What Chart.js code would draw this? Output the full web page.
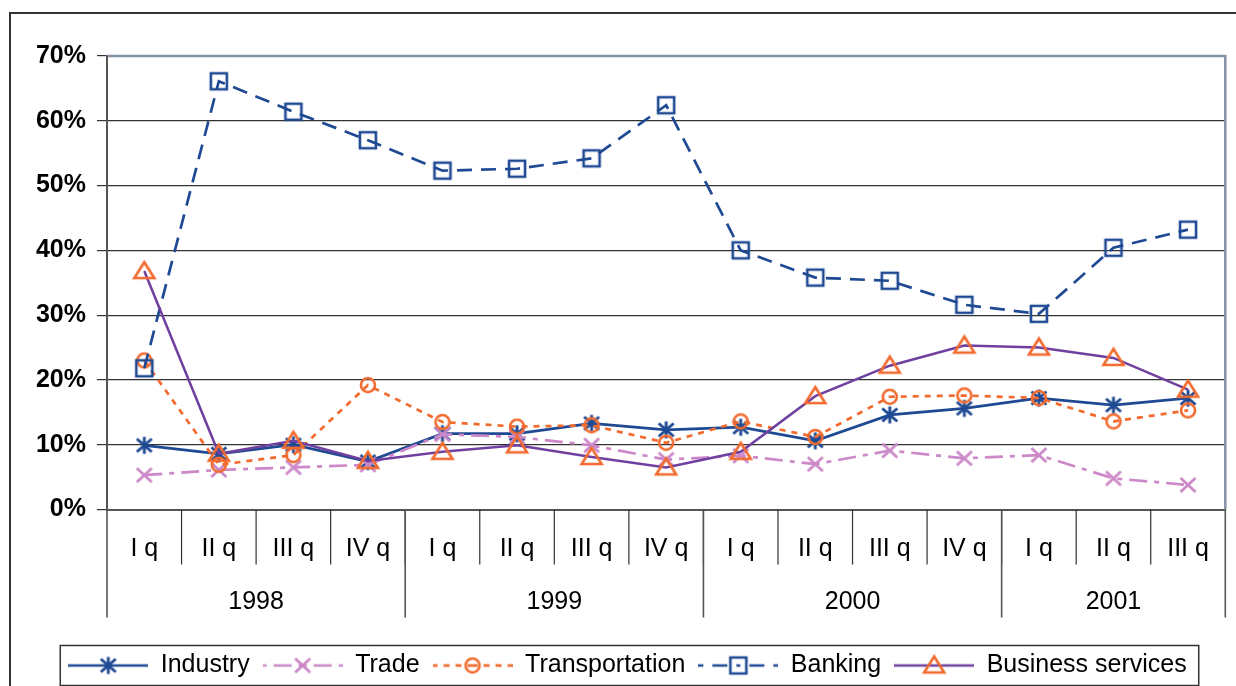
<!DOCTYPE html>
<html>
<head>
<meta charset="utf-8">
<script src="https://cdn.jsdelivr.net/npm/chart.js@4.4.1/dist/chart.umd.min.js"></script>
<style>
  html, body { margin: 0; padding: 0; background: #fff; }
  canvas { display: block; }
</style>
</head>
<body>
<canvas id="chart" width="1236" height="686"></canvas>
<script>
  // quarterly shares, %
  const quarters = ['I q', 'II q', 'III q', 'IV q', 'I q', 'II q', 'III q', 'IV q',
                    'I q', 'II q', 'III q', 'IV q', 'I q', 'II q', 'III q'];
  const years = ['1998', '1999', '2000', '2001'];
  const quartersPerYear = [4, 4, 4, 3];

  const industry = [9.9, 8.6, 10.0, 7.4, 11.7, 11.7, 13.3, 12.3, 12.7, 10.6, 14.6, 15.6, 17.2, 16.1, 17.2];
  const trade = [5.3, 6.1, 6.5, 6.9, 11.6, 11.2, 9.9, 7.7, 8.3, 7.0, 9.1, 7.9, 8.4, 4.8, 3.8];
  const transportation = [23.0, 6.9, 8.4, 19.2, 13.5, 12.8, 13.0, 10.3, 13.6, 11.2, 17.4, 17.6, 17.2, 13.6, 15.3];
  const banking = [21.8, 66.1, 61.4, 57.0, 52.3, 52.6, 54.2, 62.4, 40.0, 35.8, 35.3, 31.6, 30.2, 40.4, 43.2];
  const businessServices = [36.8, 8.6, 10.6, 7.5, 8.9, 9.9, 8.1, 6.5, 8.9, 17.5, 22.2, 25.3, 25.0, 23.4, 18.5];

  const NAVY = '#1f4a93';
  const PINK = '#cc88c8';
  const ORANGE = '#f26a2e';
  const PURPLE = '#7040a0';
  const FONT = "'Liberation Sans', Arial, sans-serif";

  function drawMarker(g, kind, color, cx, cy) {
    g.save();
    g.strokeStyle = color;
    g.lineWidth = 2.6;
    g.lineCap = 'butt';
    g.setLineDash([]);
    g.beginPath();
    if (kind === 'asterisk') {
      g.lineWidth = 2.9;
      g.moveTo(cx, cy - 8.5); g.lineTo(cx, cy + 8.5);
      g.moveTo(cx - 7.5, cy - 6.5); g.lineTo(cx + 7.5, cy + 6.5);
      g.moveTo(cx + 7.5, cy - 6.5); g.lineTo(cx - 7.5, cy + 6.5);
    } else if (kind === 'cross') {
      g.lineWidth = 2.8;
      g.moveTo(cx - 7.5, cy - 7); g.lineTo(cx + 7.5, cy + 7);
      g.moveTo(cx + 7.5, cy - 7); g.lineTo(cx - 7.5, cy + 7);
    } else if (kind === 'circle') {
      g.arc(cx, cy, 7, 0, Math.PI * 2);
    } else if (kind === 'square') {
      g.rect(cx - 8, cy - 8, 16, 16);
    } else if (kind === 'triangle') {
      g.moveTo(cx, cy - 9); g.lineTo(cx + 10, cy + 7); g.lineTo(cx - 10, cy + 7); g.closePath();
    }
    g.stroke();
    g.restore();
  }

  function markerImage(kind, color) {
    const c = document.createElement('canvas');
    c.width = 26; c.height = 26;
    drawMarker(c.getContext('2d'), kind, color, 13, 13);
    return c;
  }

  // legend sample: the line drawn out from the marker both ways, marker in the middle
  function legendImage(ds) {
    const c = document.createElement('canvas');
    c.width = 80; c.height = 26;
    const g = c.getContext('2d');
    g.strokeStyle = ds.borderColor;
    g.lineWidth = ds.borderWidth;
    g.setLineDash(ds.borderDash || []);
    g.lineDashOffset = -11;
    g.beginPath(); g.moveTo(40, 13); g.lineTo(80, 13); g.stroke();
    g.beginPath(); g.moveTo(40, 13); g.lineTo(0, 13); g.stroke();
    drawMarker(g, ds.markerKind, ds.markerColor, 40, 13);
    return c;
  }

  const series = [
    { label: 'Industry', data: industry, borderColor: NAVY, borderWidth: 2.7, borderDash: [], markerKind: 'asterisk', markerColor: NAVY, order: 5 },
    { label: 'Trade', data: trade, borderColor: PINK, borderWidth: 2.7, borderDash: [18, 7, 5, 7], markerKind: 'cross', markerColor: PINK, order: 4 },
    { label: 'Transportation', data: transportation, borderColor: ORANGE, borderWidth: 2.7, borderDash: [6, 6], markerKind: 'circle', markerColor: ORANGE, order: 3 },
    { label: 'Banking', data: banking, borderColor: NAVY, borderWidth: 2.7, borderDash: [15, 9], markerKind: 'square', markerColor: NAVY, order: 2 },
    { label: 'Business services', data: businessServices, borderColor: PURPLE, borderWidth: 2.5, borderDash: [], markerKind: 'triangle', markerColor: ORANGE, order: 1 }
  ];

  const datasets = series.map(s => ({
    ...s,
    fill: false,
    tension: 0,
    pointStyle: markerImage(s.markerKind, s.markerColor),
    pointRadius: 8,
    pointHoverRadius: 8
  }));

  const decorations = {
    id: 'decorations',
    beforeDraw(chart) {
      const ctx = chart.ctx;
      ctx.save();
      ctx.fillStyle = '#fff';
      ctx.fillRect(0, 0, chart.width, chart.height);
      ctx.strokeStyle = '#333';
      ctx.lineWidth = 2;
      ctx.beginPath();
      ctx.moveTo(10, chart.height); ctx.lineTo(10, 13); ctx.lineTo(chart.width, 13);
      ctx.stroke();
      ctx.restore();
    },
    afterDraw(chart) {
      const { ctx, chartArea: a, scales: { x } } = chart;
      const step = x.getPixelForValue(1) - x.getPixelForValue(0);
      const edge = i => x.getPixelForValue(i) - step / 2;
      const rowBottom = a.bottom + 55;
      const yearBottom = a.bottom + 108;
      ctx.save();

      // frame of the plot: top and right in grey-blue
      ctx.strokeStyle = '#8592a6';
      ctx.lineWidth = 2.5;
      ctx.beginPath();
      ctx.moveTo(a.left, a.top); ctx.lineTo(a.right, a.top); ctx.lineTo(a.right, a.bottom);
      ctx.stroke();

      // quarter separators
      ctx.strokeStyle = '#333';
      ctx.lineWidth = 1.2;
      ctx.beginPath();
      for (let i = 1; i < quarters.length; i++) {
        ctx.moveTo(edge(i), a.bottom); ctx.lineTo(edge(i), rowBottom);
      }
      ctx.stroke();

      // year separators and labels
      ctx.strokeStyle = '#555';
      ctx.lineWidth = 1.6;
      ctx.font = '25px ' + FONT;
      ctx.fillStyle = '#000';
      ctx.textAlign = 'center';
      ctx.textBaseline = 'alphabetic';
      let start = 0;
      ctx.beginPath();
      ctx.moveTo(edge(0), a.top); ctx.lineTo(edge(0), yearBottom);
      years.forEach((yr, k) => {
        const end = start + quartersPerYear[k];
        ctx.moveTo(edge(end), a.bottom); ctx.lineTo(edge(end), yearBottom);
        ctx.fillText(yr, (edge(start) + edge(end)) / 2, a.bottom + 99);
        start = end;
      });
      ctx.stroke();

      // box round the legend
      const hb = chart.legend.legendHitBoxes;
      if (hb && hb.length) {
        const l = hb[0].left - 8;
        const r = hb[hb.length - 1].left + hb[hb.length - 1].width + 12;
        const cy = hb[0].top + hb[0].height / 2;
        ctx.strokeStyle = '#333';
        ctx.lineWidth = 1.5;
        ctx.strokeRect(l, cy - 20, r - l, 40);
      }
      ctx.restore();
    }
  };

  new Chart(document.getElementById('chart'), {
    type: 'line',
    data: { labels: quarters, datasets },
    options: {
      responsive: false,
      animation: false,
      layout: { padding: { left: 27, right: 8, top: 56, bottom: -2 } },
      plugins: {
        tooltip: { enabled: false },
        legend: {
          position: 'bottom',
          labels: {
            usePointStyle: true,
            pointStyleWidth: 80,
            padding: 13,
            color: '#000',
            font: { family: FONT, size: 25 },
            generateLabels: chart => chart.data.datasets.map((ds, i) => ({
              text: ds.label,
              pointStyle: legendImage(ds),
              fillStyle: 'transparent',
              strokeStyle: 'transparent',
              lineWidth: 0,
              hidden: false,
              datasetIndex: i
            }))
          }
        }
      },
      scales: {
        x: {
          offset: true,
          grid: { display: false, drawTicks: false },
          border: { display: true, color: '#555', width: 2 },
          ticks: {
            autoSkip: false,
            maxRotation: 0,
            padding: 25,
            color: '#000',
            font: { family: FONT, size: 25 }
          },
          afterFit(scale) { scale.height = 130.5; }
        },
        y: {
          min: 0,
          max: 70,
          ticks: {
            stepSize: 10,
            padding: 11,
            color: '#000',
            font: { family: FONT, size: 25, weight: 'bold' },
            callback: v => v + '%'
          },
          grid: { color: '#333', lineWidth: 1.2, tickLength: 10 },
          border: { display: true, color: '#555', width: 2 },
          afterFit(scale) { scale.width = 80; }
        }
      }
    },
    plugins: [decorations]
  });
</script>
</body>
</html>
